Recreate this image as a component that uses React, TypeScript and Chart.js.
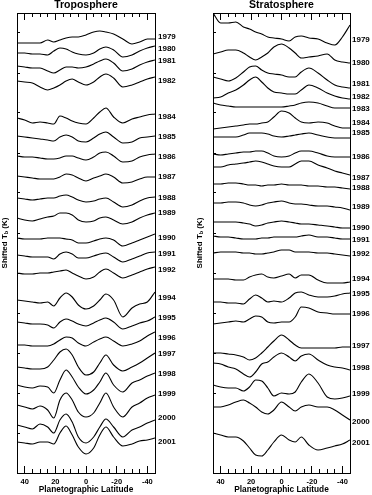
import React, { useEffect, useRef } from 'react';
import { Chart, registerables } from 'chart.js';

Chart.register(...registerables);

// Planetographic latitude sample points (deg)
const LAT = [45, 40, 35, 30, 25, 21, 17, 13, 9, 5, 0, -5, -9, -13, -18, -24, -30, -35, -40, -45];
const MAJOR_TICKS = [40, 20, 0, -20, -40];
const MINOR_TICKS = [40, 35, 30, 25, 20, 15, 10, 5, 0, -5, -10, -15, -20, -25, -30, -35, -40];

// ---------- Troposphere (shifted Tb, units of 0.1 K) ----------
const TROPO_YEARS = [1979, 1980, 1981, 1982, 1984, 1985, 1986, 1987, 1988, 1989, 1990, 1991, 1992, 1994, 1995, 1996, 1997, 1998, 1999, 2000, 2001];
const TROPO_SHIFT = [436, 424, 412, 392, 356, 336, 316, 296, 275, 260, 235, 219, 203, 175, 155, 135, 119, 99, 79, 55, 31];
const T1979 = [430, 430, 430, 430, 433, 431, 433, 435, 436, 436, 438, 441, 442, 441, 439, 434, 429, 431, 434, 434];
const T1980 = [420, 420, 419, 419, 418, 422, 425, 424, 421, 419, 418, 420, 424, 426, 423, 416, 418, 422, 425, 427];
const T1981 = [407, 406, 405, 405, 402, 400, 403, 406, 406, 405, 406, 409, 412, 414, 410, 402, 404, 408, 411, 413];
const T1982 = [392, 391, 390, 386, 383, 385, 388, 392, 394, 391, 388, 391, 396, 399, 395, 386, 388, 391, 394, 396];
const T1984 = [355, 353, 350, 351, 350, 349, 357, 355, 352, 350, 349, 355, 361, 365, 356, 350, 354, 356, 358, 359];
const T1985 = [337, 336, 335, 334, 333, 332, 336, 338, 336, 332, 331, 335, 339, 341, 336, 330, 331, 335, 336, 337];
const T1986 = [317, 316, 316, 315, 314, 314, 315, 317, 317, 315, 313, 316, 320, 321, 317, 311, 312, 316, 318, 319];
const T1987 = [297, 296, 295, 294, 294, 294, 296, 299, 298, 295, 292, 295, 297, 299, 296, 290, 291, 294, 296, 296];
const T1988 = [275, 274, 273, 274, 275, 275, 277, 278, 276, 273, 271, 272, 274, 275, 271, 266, 268, 272, 275, 276];
const T1989 = [255, 253, 252, 254, 256, 257, 260, 260, 258, 253, 251, 252, 255, 256, 253, 249, 251, 255, 258, 260];
const T1990 = [235, 234, 234, 234, 235, 235, 235, 234, 233, 230, 230, 232, 234, 235, 233, 227, 230, 233, 236, 239];
const T1991 = [218, 217, 216, 216, 216, 214, 219, 221, 219, 215, 215, 217, 219, 220, 216, 211, 214, 217, 220, 221];
const T1992 = [200, 199, 199, 200, 200, 201, 202, 203, 200, 197, 194, 196, 201, 204, 200, 195, 198, 201, 204, 206];
const T1994 = [173, 172, 171, 170, 171, 167, 175, 180, 176, 168, 164, 167, 173, 179, 173, 156, 165, 169, 171, 181];
const T1995 = [151, 150, 149, 149, 148, 145, 151, 154, 152, 149, 147, 150, 153, 155, 151, 144, 147, 150, 152, 156];
const T1996 = [128, 128, 127, 127, 127, 129, 133, 136, 135, 130, 127, 131, 134, 136, 132, 127, 129, 132, 137, 141];
const T1997 = [106, 105, 104, 104, 106, 113, 121, 124, 118, 106, 98, 101, 110, 118, 108, 102, 106, 110, 115, 120];
const T1998 = [88, 86, 85, 87, 86, 80, 93, 103, 96, 86, 79, 83, 91, 100, 88, 81, 90, 93, 97, 100];
const T1999 = [68, 66, 64, 67, 63, 55, 73, 80, 73, 61, 56, 60, 70, 80, 66, 56, 66, 70, 75, 78];
const T2000 = [48, 46, 44, 49, 46, 40, 53, 59, 51, 36, 30, 36, 46, 54, 46, 36, 43, 46, 50, 53];
const T2001 = [31, 30, 29, 31, 31, 29, 40, 47, 38, 26, 19, 25, 38, 46, 36, 27, 29, 32, 33, 35];
const TROPO_SERIES = [T1979, T1980, T1981, T1982, T1984, T1985, T1986, T1987, T1988, T1989, T1990, T1991, T1992, T1994, T1995, T1996, T1997, T1998, T1999, T2000, T2001];

// ---------- Stratosphere (shifted Tb, units of 0.1 K) ----------
const STRAT_YEARS = [1979, 1980, 1981, 1982, 1983, 1984, 1985, 1986, 1987, 1988, 1989, 1990, 1991, 1992, 1994, 1995, 1996, 1997, 1998, 1999, 2000, 2001];
const STRAT_SHIFT = [433, 410, 389, 376, 364, 350, 340, 316, 295, 285, 266, 245, 233, 219, 194, 179, 159, 127, 105, 79, 51, 30];
const S1979 = [460, 450, 450, 451, 446, 444, 441, 439, 436, 435, 434, 432, 436, 437, 435, 434, 430, 428, 436, 448];
const S1980 = [419, 421, 423, 423, 420, 416, 413, 416, 420, 426, 429, 425, 420, 415, 416, 417, 419, 413, 411, 410];
const S1981 = [396, 394, 392, 395, 401, 406, 407, 403, 400, 399, 398, 396, 396, 401, 405, 400, 393, 388, 386, 385];
const S1982 = [375, 376, 380, 383, 388, 393, 396, 391, 385, 381, 380, 379, 379, 383, 388, 385, 380, 377, 375, 374];
const S1983 = [370, 368, 367, 366, 366, 366, 366, 366, 366, 366, 366, 367, 368, 370, 371, 370, 367, 365, 365, 365];
const S1984 = [344, 345, 346, 347, 348, 349, 349, 350, 351, 356, 362, 360, 355, 351, 350, 351, 350, 347, 345, 345];
const S1985 = [336, 336, 336, 336, 338, 340, 340, 340, 339, 337, 336, 337, 338, 339, 340, 338, 336, 335, 335, 335];
const S1986 = [319, 318, 319, 320, 321, 321, 322, 322, 320, 317, 316, 317, 320, 322, 322, 320, 317, 316, 316, 316];
const S1987 = [306, 306, 308, 309, 310, 311, 312, 311, 309, 307, 306, 306, 309, 312, 312, 308, 305, 302, 300, 298];
const S1988 = [289, 289, 290, 290, 289, 288, 288, 287, 288, 288, 289, 288, 288, 288, 287, 287, 286, 286, 285, 284];
const S1989 = [270, 270, 271, 271, 270, 268, 267, 268, 270, 271, 272, 270, 269, 269, 268, 267, 267, 266, 265, 263];
const S1990 = [251, 251, 251, 251, 250, 249, 247, 248, 250, 251, 252, 251, 250, 249, 249, 248, 247, 246, 245, 245];
const S1991 = [237, 236, 236, 235, 234, 234, 234, 235, 235, 236, 236, 236, 236, 237, 238, 236, 236, 235, 234, 234];
const S1992 = [220, 221, 221, 221, 220, 220, 219, 219, 220, 221, 223, 223, 221, 221, 221, 220, 220, 219, 218, 217];
const S1994 = [194, 194, 194, 193, 193, 196, 198, 199, 196, 195, 197, 199, 195, 198, 198, 193, 190, 190, 190, 191];
const S1995 = [171, 171, 170, 170, 169, 174, 178, 175, 171, 172, 171, 175, 180, 181, 178, 176, 176, 177, 179, 180];
const S1996 = [149, 150, 151, 152, 151, 154, 157, 156, 151, 150, 151, 151, 156, 166, 165, 161, 160, 159, 159, 159];
const S1997 = [120, 120, 119, 118, 116, 113, 115, 120, 126, 132, 138, 133, 128, 125, 125, 125, 125, 125, 126, 126];
const S1998 = [110, 109, 106, 104, 99, 96, 101, 109, 111, 116, 120, 116, 112, 117, 119, 113, 108, 106, 105, 103];
const S1999 = [88, 86, 85, 85, 82, 86, 93, 92, 85, 77, 80, 79, 81, 91, 99, 90, 76, 74, 75, 77];
const S2000 = [66, 66, 68, 71, 73, 70, 66, 61, 59, 63, 71, 66, 62, 66, 68, 66, 66, 63, 58, 53];
const S2001 = [40, 38, 36, 36, 32, 25, 18, 17, 23, 31, 38, 33, 31, 36, 28, 23, 25, 27, 29, 33];
const STRAT_SERIES = [S1979, S1980, S1981, S1982, S1983, S1984, S1985, S1986, S1987, S1988, S1989, S1990, S1991, S1992, S1994, S1995, S1996, S1997, S1998, S1999, S2000, S2001];

const FONT = "'Liberation Sans', Arial, Helvetica, sans-serif";

function yTitlePlugin(x: number) {
  return {
    id: 'yTitle',
    afterDraw(chart: any) {
      const { ctx, chartArea } = chart;
      const cy = (chartArea.top + chartArea.bottom) / 2;
      const big = `bold 8px ${FONT}`;
      const small = `bold 5.5px ${FONT}`;
      const parts: [string, string, number][] = [['Shifted T', big, 0], ['b', small, 2.2], [' (K)', big, 0]];
      ctx.save();
      ctx.translate(x, cy);
      ctx.rotate(-Math.PI / 2);
      ctx.fillStyle = '#000';
      ctx.textBaseline = 'middle';
      ctx.textAlign = 'left';
      let total = 0;
      for (const [t, f] of parts) {
        ctx.font = f;
        total += ctx.measureText(t).width;
      }
      let px = -total / 2;
      for (const [t, f, dy] of parts) {
        ctx.font = f;
        ctx.fillText(t, px, dy);
        px += ctx.measureText(t).width;
      }
      ctx.restore();
    },
  };
}

interface PanelOpts {
  title: string;
  years: number[];
  shifts: number[];
  series: number[][];
  padLeft: number;
  rightWidth: number;
  labelPad: number;
  yTitleX: number;
}

function buildChart(canvas: HTMLCanvasElement, o: PanelOpts) {
  const yearOf = new Map<number, string>(o.shifts.map((s, i) => [s, String(o.years[i])]));
  const xBase = { type: 'linear', min: -45, max: 45, reverse: true };
  const tickFont = { family: FONT, size: 7.5, weight: 'bold' };
  const setTicks = (vals: number[]) => (s: any) => {
    s.ticks = vals.map((v) => ({ value: v }));
  };
  return new Chart(canvas, {
    type: 'line',
    data: {
      datasets: o.series.map((arr, k) => ({
        label: String(o.years[k]),
        data: arr.map((v, i) => ({ x: LAT[i], y: v })),
        borderColor: '#000',
        borderWidth: 1.1,
        pointRadius: 0,
        cubicInterpolationMode: 'monotone',
        fill: false,
        xAxisID: 'x',
        yAxisID: 'y',
      })),
    },
    options: {
      responsive: false,
      animation: false,
      events: [],
      layout: { padding: { left: o.padLeft, right: 0, top: 0, bottom: 0 } },
      plugins: {
        legend: { display: false },
        tooltip: { enabled: false },
        title: {
          display: true,
          text: o.title,
          fullSize: false,
          color: '#000',
          font: { family: FONT, size: 10.5, weight: 'bold', lineHeight: 1 },
          padding: { top: 0, bottom: 2.5 },
        },
      },
      scales: {
        x: {
          ...xBase,
          position: 'bottom',
          weight: 1,
          afterBuildTicks: setTicks(MAJOR_TICKS),
          ticks: { font: tickFont, color: '#000', padding: 11, maxRotation: 0, autoSkip: false },
          grid: { drawOnChartArea: false, drawTicks: true, tickLength: -7, tickColor: '#000', tickWidth: 1 },
          border: { display: true, color: '#000', width: 1 },
          title: {
            display: true,
            text: 'Planetographic Latitude',
            color: '#000',
            font: { family: FONT, size: 8.3, weight: 'bold' },
            padding: { top: 0, bottom: 0 },
          },
          afterFit: (s: any) => {
            s.height = 22;
          },
        },
        xb: {
          ...xBase,
          position: 'bottom',
          weight: 0,
          afterBuildTicks: setTicks(MINOR_TICKS),
          ticks: { display: false },
          grid: { drawOnChartArea: false, drawTicks: true, tickLength: -4, tickColor: '#000', tickWidth: 1 },
          border: { display: false },
          afterFit: (s: any) => {
            s.height = 0;
          },
        },
        xt: {
          ...xBase,
          position: 'top',
          weight: 0,
          afterBuildTicks: setTicks(MAJOR_TICKS),
          ticks: { display: false },
          grid: { drawOnChartArea: false, drawTicks: true, tickLength: -7, tickColor: '#000', tickWidth: 1 },
          border: { display: true, color: '#000', width: 1 },
          afterFit: (s: any) => {
            s.height = 0;
          },
        },
        xtm: {
          ...xBase,
          position: 'top',
          weight: 1,
          afterBuildTicks: setTicks(MINOR_TICKS),
          ticks: { display: false },
          grid: { drawOnChartArea: false, drawTicks: true, tickLength: -4, tickColor: '#000', tickWidth: 1 },
          border: { display: false },
          afterFit: (s: any) => {
            s.height = 0;
          },
        },
        y: {
          type: 'linear',
          position: 'left',
          min: 0,
          max: 460,
          ticks: { display: false, stepSize: 40 },
          grid: { drawOnChartArea: false, drawTicks: true, tickLength: -3, tickColor: '#000', tickWidth: 1 },
          border: { display: true, color: '#000', width: 1 },
          afterFit: (s: any) => {
            s.width = 0;
          },
        },
        yr: {
          type: 'linear',
          position: 'right',
          min: 0,
          max: 460,
          afterBuildTicks: (s: any) => {
            s.ticks = [...o.shifts].sort((a, b) => a - b).map((v) => ({ value: v }));
          },
          ticks: {
            callback: (v: any) => yearOf.get(Number(v)) ?? '',
            font: { family: FONT, size: 8, weight: 'bold' },
            color: '#000',
            padding: o.labelPad,
            autoSkip: false,
          },
          grid: { drawOnChartArea: false, drawTicks: false },
          border: { display: true, color: '#000', width: 1 },
          afterFit: (s: any) => {
            s.width = o.rightWidth;
          },
        },
      },
    } as any,
    plugins: [yTitlePlugin(o.yTitleX)],
  } as any);
}

export default function App() {
  const leftRef = useRef<HTMLCanvasElement>(null);
  const rightRef = useRef<HTMLCanvasElement>(null);

  useEffect(() => {
    const c1 = buildChart(leftRef.current!, {
      title: 'Troposphere',
      years: TROPO_YEARS,
      shifts: TROPO_SHIFT,
      series: TROPO_SERIES,
      padLeft: 17,
      rightWidth: 31,
      labelPad: 3,
      yTitleX: 4.5,
    });
    const c2 = buildChart(rightRef.current!, {
      title: 'Stratosphere',
      years: STRAT_YEARS,
      shifts: STRAT_SHIFT,
      series: STRAT_SERIES,
      padLeft: 27,
      rightWidth: 22,
      labelPad: 2,
      yTitleX: 13.5,
    });
    return () => {
      c1.destroy();
      c2.destroy();
    };
  }, []);

  return (
    <div style={{ position: 'absolute', left: 0, top: 0, width: 372, height: 495, display: 'flex', background: '#fff' }}>
      <canvas ref={leftRef} width={186} height={495} style={{ display: 'block', width: 186, height: 495 }} />
      <canvas ref={rightRef} width={186} height={495} style={{ display: 'block', width: 186, height: 495 }} />
    </div>
  );
}
